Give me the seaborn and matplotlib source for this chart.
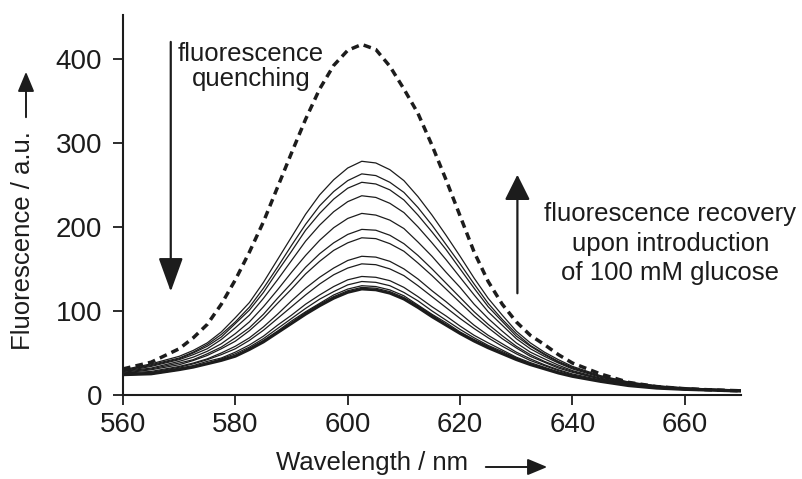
import matplotlib
matplotlib.use("Agg")
import matplotlib.pyplot as plt
import matplotlib.patches as mpatches
import seaborn as sns
import pandas as pd

# ---- data ----
wavelength = [560, 565, 570, 572.5, 575, 577.5, 580, 582.5, 585, 587.5, 590, 592.5, 595,
              597.5, 600, 602.5, 605, 607.5, 610, 612.5, 615, 617.5, 620, 622.5, 625,
              627.5, 630, 632.5, 635, 637.5, 640, 645, 650, 655, 660, 665, 670]

# free sensor (dashed)
sensor_free = [31, 39, 55, 68, 84, 108, 137, 170, 206, 247, 288, 328, 364,
               392, 410, 417, 411, 391, 364, 335, 297, 256, 213, 170, 135,
               108, 87, 71, 60, 48, 38, 25, 15, 10, 7.5, 6, 5]

# titration spectra (solid), from highest to lowest
spec_01 = [30, 37, 46, 53, 62, 75, 92, 110, 134, 161, 188, 215, 238, 256, 270, 278, 276, 268, 255, 236, 214, 190, 165, 139, 115, 95, 76, 62, 51, 42, 34, 23, 15.5, 11, 8.5, 7, 6]
spec_02 = [29, 36, 44, 51, 60, 72, 87, 104.5, 127, 152, 178, 203, 225, 242, 255, 263, 261, 253, 241, 223, 202, 179, 156, 132, 109, 90, 73, 59, 49, 40, 33, 22, 15, 10.7, 8.3, 6.9, 5.9]
spec_03 = [29, 35, 43, 50, 58, 69, 85, 101, 122, 147, 171, 196, 216, 233, 246, 253, 251, 244, 232, 214, 194, 173, 150, 127, 105, 87.5, 70, 58, 48, 39, 32, 22, 14.8, 10.5, 8.2, 6.8, 5.8]
spec_04 = [28, 34, 42, 48, 55, 66, 80, 95, 115, 137, 160, 183, 202, 218, 230, 237, 235, 228, 217, 200, 181, 161, 140, 119, 99, 83, 67, 55, 46, 38, 31, 21, 14.3, 10.2, 8.0, 6.6, 5.6]
spec_05 = [28, 32, 40, 45, 52, 61, 73, 87, 105, 125, 146, 166, 184, 199, 210, 216, 214, 208, 198, 182, 165, 146, 128, 108, 91, 76, 62, 51, 43, 35.5, 29, 20, 13.7, 9.8, 7.7, 6.4, 5.4]
spec_06 = [27, 31, 38, 42, 49, 57, 68, 80, 96, 115, 133, 152, 168, 181, 191, 197, 196, 190, 180, 166, 150, 133, 116, 99, 84, 70.5, 58, 48, 40, 33.5, 28, 19, 13.1, 9.4, 7.4, 6.2, 5.2]
spec_07 = [26, 30, 36, 41, 47, 55, 64, 76.5, 91.5, 109, 126, 144, 159, 172, 181, 187, 186, 180, 171, 157, 142, 126, 110, 94, 80, 67, 56, 46, 39, 32, 27, 19, 12.8, 9.2, 7.3, 6.1, 5.1]
spec_08 = [26, 28, 34, 38, 43, 50, 58, 68, 81, 96, 112, 127, 140, 151, 160, 165, 164, 159, 150, 138, 124, 111, 97, 83, 71, 61, 51, 43, 36, 30, 25, 18, 12.2, 8.8, 7.0, 5.9, 4.9]
spec_09 = [25, 27, 33, 37, 42, 48, 55, 65, 77, 91, 105, 119, 132, 143, 151, 156, 155, 150, 142, 130, 117, 104, 91, 79, 68, 58, 49, 41, 35, 29, 24, 17, 11.9, 8.6, 6.9, 5.8, 4.8]
spec_10 = [25, 26, 32, 35, 40, 44, 51, 59.5, 70, 83, 95, 108, 119, 129, 137, 141, 140, 136, 128, 117, 105, 94, 82, 71, 62, 53.5, 45, 38.5, 33, 27.5, 23, 16.7, 11.4, 8.3, 6.7, 5.6, 4.6]
spec_11 = [24, 26, 31, 34, 38, 43, 49, 57, 67, 79, 91, 103, 114, 123, 131, 135, 134, 130, 122, 112, 100, 89, 78, 68, 59, 51.7, 44, 37.5, 32, 27, 23, 16.4, 11.3, 8.2, 6.6, 5.6, 4.6]
spec_12 = [24, 25, 30, 33.5, 38, 42, 47, 55.5, 65, 76, 88, 99, 109, 119, 126, 130, 129, 125, 118, 107, 96, 86, 75, 66, 58, 50.2, 43, 36.7, 31.5, 26.4, 22.3, 16.2, 11.1, 8.1, 6.5, 5.5, 4.5]
spec_13 = [24, 25, 30, 33.3, 37, 41.4, 47, 54.7, 64, 75, 86, 98, 108, 117, 124, 128, 127, 123, 116, 106, 95, 84, 74, 65, 57, 49.6, 42.5, 36.3, 31.3, 26.2, 22.2, 16.1, 11.1, 8.0, 6.5, 5.5, 4.5]
spec_14 = [24, 25, 30, 33, 37, 41, 46, 54, 63, 74, 85, 96, 106, 115, 122, 126, 125, 121, 114, 104, 93, 83, 73, 64, 56, 49, 42, 36, 31, 26, 22, 16, 11, 8, 6.5, 5.5, 4.5]

solid_spectra = [spec_01, spec_02, spec_03, spec_04, spec_05, spec_06, spec_07,
                 spec_08, spec_09, spec_10, spec_11, spec_12, spec_13, spec_14]

x_ticks = [560, 580, 600, 620, 640, 660]
y_ticks = [0, 100, 200, 300, 400]

# ---- style ----
sns.set_style("ticks")
plt.rcParams["font.family"] = ["Liberation Sans", "DejaVu Sans"]
INK = "#1c1c1c"

W, H = 803, 479
fig = plt.figure(figsize=(W / 100, H / 100), dpi=100)
ax = fig.add_axes([123 / W, (H - 395) / H, (741 - 123) / W, (395 - 15) / H])

# long-form table
rows = []
for i, s in enumerate(solid_spectra):
    for w, v in zip(wavelength, s):
        rows.append({"wavelength": w, "fluorescence": v, "curve": f"s{i:02d}"})
df = pd.DataFrame(rows)

for i, (name, g) in enumerate(df.groupby("curve")):
    lw = 0.9 if i < len(solid_spectra) - 1 else 2.0
    sns.lineplot(data=g, x="wavelength", y="fluorescence", ax=ax, color=INK,
                 lw=lw, estimator=None, sort=False, legend=False)

sns.lineplot(x=wavelength, y=sensor_free, ax=ax, color=INK, lw=2.5,
             linestyle=(0, (2.2, 1.5)), estimator=None, sort=False, legend=False)

ax.set_xlim(560, 670)
ax.set_ylim(0, 452)
ax.set_xticks(x_ticks)
ax.set_yticks(y_ticks)
ax.set_xticklabels([str(t) for t in x_ticks])
ax.set_yticklabels([str(t) for t in y_ticks])
ax.set_xlabel("")
ax.set_ylabel("")
sns.despine(ax=ax)
for sp in ("left", "bottom"):
    ax.spines[sp].set_linewidth(1.5)
    ax.spines[sp].set_color(INK)
ax.tick_params(axis="both", direction="out", length=7, width=1.3, colors=INK,
               labelsize=20, labelcolor=INK)
ax.tick_params(axis="y", pad=8)
ax.tick_params(axis="x", pad=5)

# annotations inside the plot
ax.annotate("", xy=(568.5, 123), xytext=(568.5, 420),
            arrowprops=dict(arrowstyle="-|>,head_length=2.1,head_width=0.76",
                            lw=1.6, color=INK, shrinkA=0, shrinkB=0,
                            mutation_scale=10))
ax.text(582.8, 391, "fluorescence\nquenching", ha="center", va="center",
        fontsize=18.5, color=INK, linespacing=1.08)

ax.annotate("", xy=(630.2, 262), xytext=(630.2, 121),
            arrowprops=dict(arrowstyle="-|>,head_length=1.56,head_width=0.78",
                            lw=1.6, color=INK, shrinkA=0, shrinkB=0,
                            mutation_scale=10))
ax.text(657.4, 180, "fluorescence recovery\nupon introduction\nof 100 mM glucose",
        ha="center", va="center", fontsize=18.5, color=INK, linespacing=1.28,
        clip_on=False)

# axis titles with arrows
fig.text(372 / W, (H - 463) / H, "Wavelength / nm", ha="center", va="center",
         fontsize=18.5, color=INK)
fig.text(23 / W, (H - 241) / H, "Fluorescence / a.u.", ha="center", va="center",
         rotation=90, fontsize=18.5, color=INK)
fig.patches.append(mpatches.FancyArrowPatch(
    (483 / W, (H - 467) / H), (550 / W, (H - 467) / H), transform=fig.transFigure,
    arrowstyle="-|>,head_length=1.2,head_width=0.5", mutation_scale=10,
    lw=1.4, color=INK))
fig.patches.append(mpatches.FancyArrowPatch(
    (26 / W, (H - 120) / H), (26 / W, (H - 69) / H), transform=fig.transFigure,
    arrowstyle="-|>,head_length=1.2,head_width=0.5", mutation_scale=10,
    lw=1.4, color=INK))

fig.savefig("out.png", dpi=100, facecolor="white")
